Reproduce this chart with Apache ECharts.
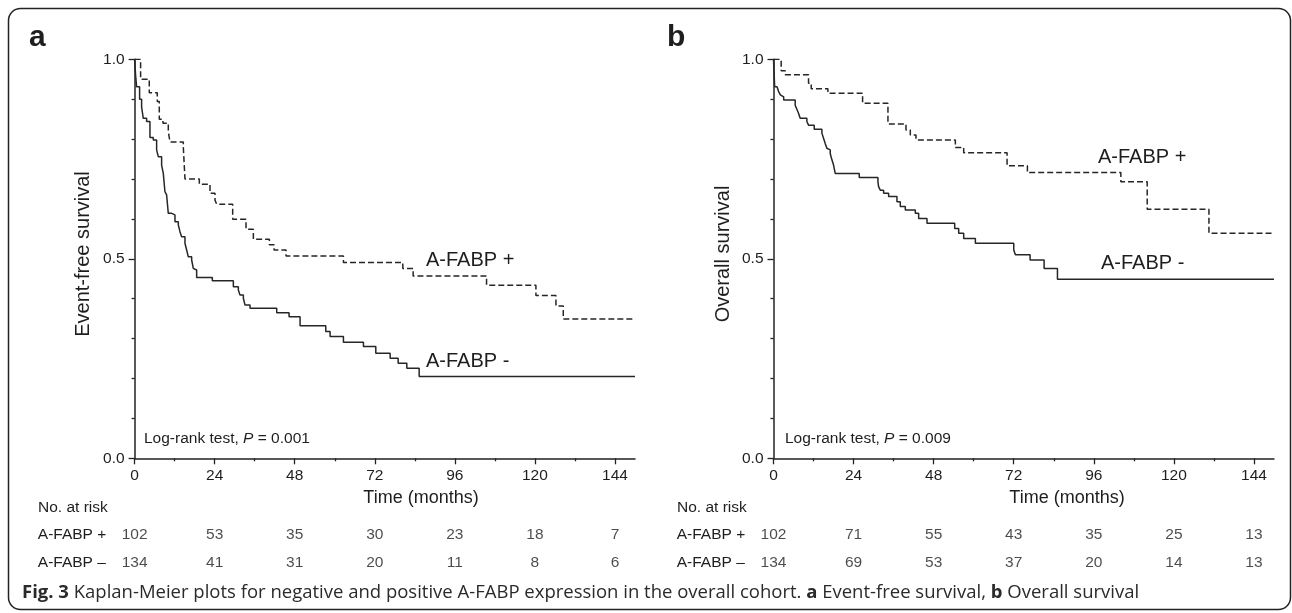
<!DOCTYPE html>
<html>
<head>
<meta charset="utf-8">
<script src="https://cdn.jsdelivr.net/npm/echarts@6/dist/echarts.min.js"></script>
<style>
  html, body { margin: 0; padding: 0; background: #fff; }
  #chart { width: 1292px; height: 613px; }
</style>
</head>
<body>
<div id="chart"></div>
<script>
// event-free survival, A-FABP + (dashed)
var efsPosT = [0, 1.8, 4.4, 6.8, 7.4, 8.5, 10.1, 10.6, 14.6, 15.1, 19.4, 22.6, 24.1, 24.6, 29.4, 33.4, 35.6, 40.4, 41.8, 45.4, 62.6, 80.4, 83.5, 105.5, 120.3, 126.3, 128.5, 150];
var efsPosS = [1.0, 0.95, 0.916, 0.894, 0.85, 0.84, 0.819, 0.793, 0.78, 0.70, 0.687, 0.664, 0.647, 0.637, 0.599, 0.574, 0.549, 0.535, 0.522, 0.507, 0.491, 0.476, 0.457, 0.434, 0.408, 0.382, 0.349, 0.349];
// event-free survival, A-FABP - (solid)
var efsNegT = [0, 0.3, 0.6, 1.5, 2.1, 2.6, 3.6, 4.6, 5.6, 6.6, 7.1, 8.1, 8.6, 9.1, 9.6, 10.1, 11.1, 12.1, 13.1, 13.6, 14.1, 15.1, 15.6, 16.1, 17.1, 17.6, 18.1, 18.6, 23.3, 29.6, 31.1, 31.6, 32.6, 33.1, 34.6, 42.6, 46.3, 49.6, 57.3, 58.6, 62.6, 68.6, 72.3, 76.6, 79.0, 81.6, 85.3, 150];
var efsNegS = [1.0, 0.96, 0.931, 0.90, 0.881, 0.852, 0.844, 0.804, 0.798, 0.773, 0.756, 0.735, 0.714, 0.668, 0.660, 0.614, 0.610, 0.593, 0.585, 0.568, 0.555, 0.539, 0.522, 0.505, 0.497, 0.476, 0.472, 0.453, 0.445, 0.430, 0.422, 0.409, 0.401, 0.384, 0.376, 0.365, 0.355, 0.332, 0.318, 0.305, 0.291, 0.280, 0.263, 0.251, 0.238, 0.226, 0.205, 0.205];
// overall survival, A-FABP + (dashed)
var osPosT = [0, 2.3, 3.5, 10.5, 11.3, 16.3, 26.7, 34.3, 39.7, 41.0, 42.7, 54.5, 57.0, 70.0, 76.1, 104.1, 112.0, 130.5, 150];
var osPosS = [1.0, 0.971, 0.961, 0.94, 0.926, 0.915, 0.890, 0.838, 0.823, 0.81, 0.798, 0.779, 0.766, 0.733, 0.716, 0.693, 0.624, 0.564, 0.564];
// overall survival, A-FABP - (solid)
var osNegT = [0, 0.35, 1.05, 1.55, 2.05, 2.55, 3.05, 6.5, 7.0, 7.5, 8.0, 10.0, 10.5, 12.2, 14.5, 15.0, 15.5, 16.0, 16.5, 17.0, 17.5, 18.0, 18.5, 25.7, 31.3, 31.5, 32.0, 33.0, 34.5, 37.0, 38.0, 39.5, 42.5, 43.5, 46.0, 54.3, 55.5, 57.0, 60.5, 72.0, 72.5, 76.9, 81.1, 85.1, 150];
var osNegS = [1.0, 0.931, 0.927, 0.919, 0.911, 0.906, 0.898, 0.885, 0.875, 0.865, 0.852, 0.844, 0.835, 0.825, 0.815, 0.802, 0.789, 0.777, 0.773, 0.764, 0.748, 0.735, 0.714, 0.704, 0.693, 0.681, 0.672, 0.664, 0.656, 0.643, 0.631, 0.622, 0.614, 0.601, 0.589, 0.576, 0.564, 0.551, 0.539, 0.522, 0.510, 0.497, 0.476, 0.449, 0.449];

// number at risk table
var riskTimes = [0, 24, 48, 72, 96, 120, 144];
var riskRows = ["A-FABP +", "A-FABP \u2013"];
var efsRiskPos = [102, 53, 35, 30, 23, 18, 7];
var efsRiskNeg = [134, 41, 31, 20, 11, 8, 6];
var osRiskPos = [102, 71, 55, 43, 35, 25, 13];
var osRiskNeg = [134, 69, 53, 37, 20, 14, 13];

var majorTicks = [0, 24, 48, 72, 96, 120, 144];
var minorTicks = [12, 36, 60, 84, 108, 132];

var FONT = "'Liberation Sans', Arial, sans-serif";
var INK = "#1e1e1e";

var myChart = echarts.init(document.getElementById("chart"));

function pairs(t, s) {
  return t.map(function (v, i) { return [v, s[i]]; });
}

function kmLine(x, y, t, s, dashed) {
  return {
    type: "line",
    xAxisIndex: x,
    yAxisIndex: y,
    step: "end",
    showSymbol: false,
    symbol: "none",
    lineStyle: { color: "#262626", width: 1.5, type: dashed ? [6, 3] : "solid" },
    data: pairs(t, s),
  };
}

function riskSeries(x, y, pos, neg) {
  var data = [];
  riskTimes.forEach(function (t, i) {
    data.push([t, 0, pos[i]]);
    data.push([t, 1, neg[i]]);
  });
  return {
    type: "scatter",
    xAxisIndex: x,
    yAxisIndex: y,
    symbolSize: 1,
    itemStyle: { color: "transparent" },
    label: {
      show: true,
      position: "inside",
      formatter: function (p) { return p.value[2]; },
      fontSize: 15.5,
      fontFamily: FONT,
      color: INK,
    },
    data: data,
  };
}

function mainX(g) {
  return {
    type: "value", gridIndex: g, min: 0, max: 150, position: "bottom",
    splitLine: { show: false },
    axisLine: { show: true, onZero: false, lineStyle: { color: "#222", width: 1.5 } },
    axisTick: { show: true, customValues: majorTicks, length: 6, lineStyle: { color: "#222", width: 1.3 } },
    axisLabel: { customValues: majorTicks, margin: 9, fontSize: 15.5, fontFamily: FONT, color: INK },
  };
}

function minorX(g) {
  return {
    type: "value", gridIndex: g, min: 0, max: 150, position: "bottom",
    splitLine: { show: false },
    axisLine: { show: false, onZero: false },
    axisTick: { show: true, customValues: minorTicks, length: 3, lineStyle: { color: "#222", width: 1.3 } },
    axisLabel: { show: false },
  };
}

function survY(g) {
  return {
    type: "value", gridIndex: g, min: 0, max: 1, interval: 0.5,
    splitLine: { show: false },
    axisLine: { show: true, lineStyle: { color: "#222", width: 1.5 } },
    axisTick: { show: true, length: 6, lineStyle: { color: "#222", width: 1.3 } },
    minorTick: { show: true, splitNumber: 5, length: 3, lineStyle: { color: "#222", width: 1.3 } },
    axisLabel: {
      margin: 10, fontSize: 15.5, fontFamily: FONT, color: INK,
      formatter: function (v) { return v.toFixed(1); },
    },
  };
}

function riskX(g) {
  return { type: "value", gridIndex: g, min: 0, max: 150, show: false };
}

function riskY(g) {
  return {
    type: "category", gridIndex: g, data: riskRows, inverse: true,
    axisLine: { show: false }, axisTick: { show: false }, splitLine: { show: false },
    axisLabel: { align: "left", margin: 96.8, fontSize: 15.5, fontFamily: FONT, color: INK },
  };
}

function txt(x, y, text, size, extra) {
  var style = {
    text: text, font: size + "px " + FONT, fill: INK,
    align: "left", textAlign: "left", verticalAlign: "middle", textVerticalAlign: "middle",
  };
  if (extra) Object.assign(style, extra);
  return { type: "text", x: x, y: y, silent: true, style: style };
}

function logRank(x, p) {
  return txt(x, 439, "{a|Log-rank test, }{i|P}{a| = " + p + "}", 15.5, {
    rich: {
      a: { fontSize: 15.5, fontFamily: FONT, fill: INK, color: INK },
      i: { fontSize: 15.5, fontFamily: FONT, fontStyle: "italic", fill: INK, color: INK },
    },
  });
}

function yTitle(x, text) {
  var el = txt(x, 254, text, 20, { align: "center", textAlign: "center" });
  el.rotation = Math.PI / 2;
  return el;
}

var option = {
  animation: false,
  backgroundColor: "#fff",
  grid: [
    { left: 134.6, top: 59.3, width: 500.4, height: 399 },
    { left: 773.5, top: 59.3, width: 500.5, height: 399 },
    { left: 134.6, top: 520.4, width: 500.4, height: 56.4 },
    { left: 773.5, top: 520.4, width: 500.5, height: 56.4 },
  ],
  xAxis: [mainX(0), minorX(0), mainX(1), minorX(1), riskX(2), riskX(3)],
  yAxis: [survY(0), survY(1), riskY(2), riskY(3)],
  series: [
    kmLine(0, 0, efsPosT, efsPosS, true),
    kmLine(0, 0, efsNegT, efsNegS, false),
    kmLine(2, 1, osPosT, osPosS, true),
    kmLine(2, 1, osNegT, osNegS, false),
    riskSeries(4, 2, efsRiskPos, efsRiskNeg),
    riskSeries(5, 3, osRiskPos, osRiskNeg),
  ],
  graphic: [
    {
      type: "rect", silent: true,
      shape: { x: 8.5, y: 8.5, width: 1282, height: 601, r: 12 },
      style: { fill: "none", stroke: "#222", lineWidth: 1.5 },
    },
    txt(29, 38, "a", 30, { font: "bold 30px " + FONT }),
    txt(667, 38, "b", 30, { font: "bold 30px " + FONT }),
    yTitle(83, "Event-free survival"),
    yTitle(723, "Overall survival"),
    txt(426, 260, "A-FABP +", 20),
    txt(426, 361, "A-FABP -", 20),
    txt(1098, 157, "A-FABP +", 20),
    txt(1101, 263, "A-FABP -", 20),
    logRank(144, "0.001"),
    logRank(785, "0.009"),
    txt(421, 498, "Time (months)", 18, { align: "center", textAlign: "center" }),
    txt(1067, 498, "Time (months)", 18, { align: "center", textAlign: "center" }),
    txt(38, 508, "No. at risk", 15.5),
    txt(677, 508, "No. at risk", 15.5),
    {
      type: "text", x: 22, y: 593, silent: true,
      style: {
        text: "{b|Fig. 3} Kaplan-Meier plots for negative and positive A-FABP expression in the overall cohort. {b|a} Event-free survival, {b|b} Overall survival",
        font: "18.5px 'Open Sans', sans-serif",
        fill: "#2a2a2a",
        align: "left", textAlign: "left", verticalAlign: "middle", textVerticalAlign: "middle",
        rich: {
          b: { fontSize: 18.5, fontFamily: "'Open Sans', sans-serif", fontWeight: "bold", fill: "#2a2a2a", color: "#2a2a2a" },
        },
      },
    },
  ],
};

option && myChart.setOption(option);
</script>
</body>
</html>
